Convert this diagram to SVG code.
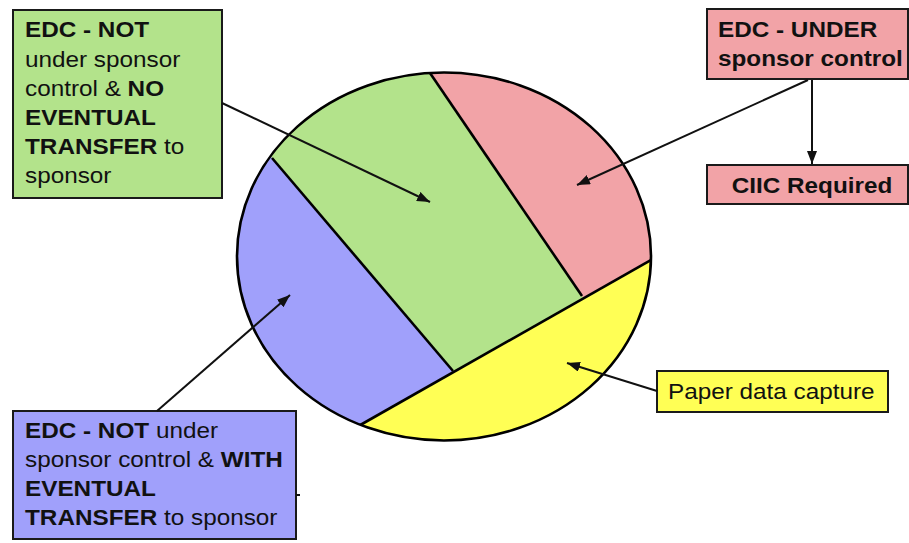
<svg xmlns="http://www.w3.org/2000/svg" width="909" height="543" viewBox="0 0 909 543">
<style>
.box{stroke:#1a1a1a;stroke-width:2}
.t{font-family:"Liberation Sans",Arial,sans-serif;font-size:22.5px;fill:#111}
.b{font-weight:bold}
.conn{stroke:#111;stroke-width:2;fill:none}
.div{stroke:#000;stroke-width:2.6;fill:none}
</style>
<defs>
<clipPath id="ell"><ellipse cx="444" cy="256.5" rx="207" ry="184"/></clipPath>
<marker id="ah" viewBox="0 0 13 10" markerWidth="13" markerHeight="10" refX="13" refY="5" orient="auto" markerUnits="userSpaceOnUse"><path d="M0,0 L13,5 L0,10 z" fill="#111"/></marker>
</defs>
<rect width="909" height="543" fill="#fff"/>
<g id="pie">
<g clip-path="url(#ell)">
<rect x="230" y="60" width="430" height="390" fill="#b3e38b"/>
<polygon points="92,-54 632,582 -200,582 -200,-54" fill="#a0a0fb"/>
<polygon points="278,-148 734,518 950,518 950,-148" fill="#f2a3a7"/>
<polygon points="940,96 73,588 940,588" fill="#ffff55"/>
<line class="div" x1="272" y1="158" x2="453" y2="371"/>
<line class="div" x1="430" y1="73" x2="582" y2="296"/>
<line class="div" x1="660" y1="255" x2="355" y2="428"/>
</g>
<ellipse cx="444" cy="256.5" rx="207" ry="184" fill="none" stroke="#000" stroke-width="2.6"/>
</g>
<g id="n-green">
<rect class="box" x="13" y="10" width="209" height="188" fill="#b3e38b"/>
<g transform="translate(25,0) scale(1.08,1)">
<text class="t"><tspan x="0" y="37.5" class="b">EDC - NOT</tspan><tspan x="0" y="66.7">under sponsor</tspan><tspan x="0" y="96">control &amp; <tspan class="b">NO</tspan></tspan><tspan x="0" y="125" class="b">EVENTUAL</tspan><tspan x="0" y="154"><tspan class="b">TRANSFER</tspan> to</tspan><tspan x="0" y="183">sponsor</tspan></text>
</g>
</g>
<g id="n-pink">
<rect class="box" x="707" y="9" width="201" height="70" fill="#f2a3a7"/>
<g transform="translate(718,0) scale(1.08,1)">
<text class="t b"><tspan x="0" y="37">EDC - UNDER</tspan><tspan x="0" y="66">sponsor control</tspan></text>
</g>
</g>
<g id="n-ciic">
<rect class="box" x="707" y="165" width="201" height="39" fill="#f2a3a7"/>
<g transform="translate(812,193) scale(1.08,1)">
<text class="t b" x="0" y="0" text-anchor="middle">CIIC Required</text>
</g>
</g>
<g id="n-blue">
<rect class="box" x="13" y="411" width="283" height="128" fill="#a0a0fb"/>
<g transform="translate(25,0) scale(1.08,1)">
<text class="t"><tspan x="0" y="438"><tspan class="b">EDC - NOT</tspan> under</tspan><tspan x="0" y="467">sponsor control &amp; <tspan class="b">WITH</tspan></tspan><tspan x="0" y="496" class="b">EVENTUAL</tspan><tspan x="0" y="525"><tspan class="b">TRANSFER</tspan> to sponsor</tspan></text>
</g>
</g>
<g id="n-paper">
<rect class="box" x="657" y="371" width="231" height="41" fill="#ffff55"/>
<g transform="translate(668,399) scale(1.08,1)">
<text class="t" x="0" y="0">Paper data capture</text>
</g>
</g>
<g id="connectors">
<line class="conn" x1="222" y1="103" x2="430" y2="202" marker-end="url(#ah)"/>
<line class="conn" x1="808" y1="80" x2="577" y2="185" marker-end="url(#ah)"/>
<line class="conn" x1="812" y1="80" x2="812" y2="164" marker-end="url(#ah)"/>
<line class="conn" x1="157" y1="411" x2="290" y2="295" marker-end="url(#ah)"/>
<line class="conn" x1="657" y1="391" x2="567" y2="363" marker-end="url(#ah)"/>
<line class="conn" x1="296" y1="495" x2="300" y2="495"/>
</g>
</svg>
